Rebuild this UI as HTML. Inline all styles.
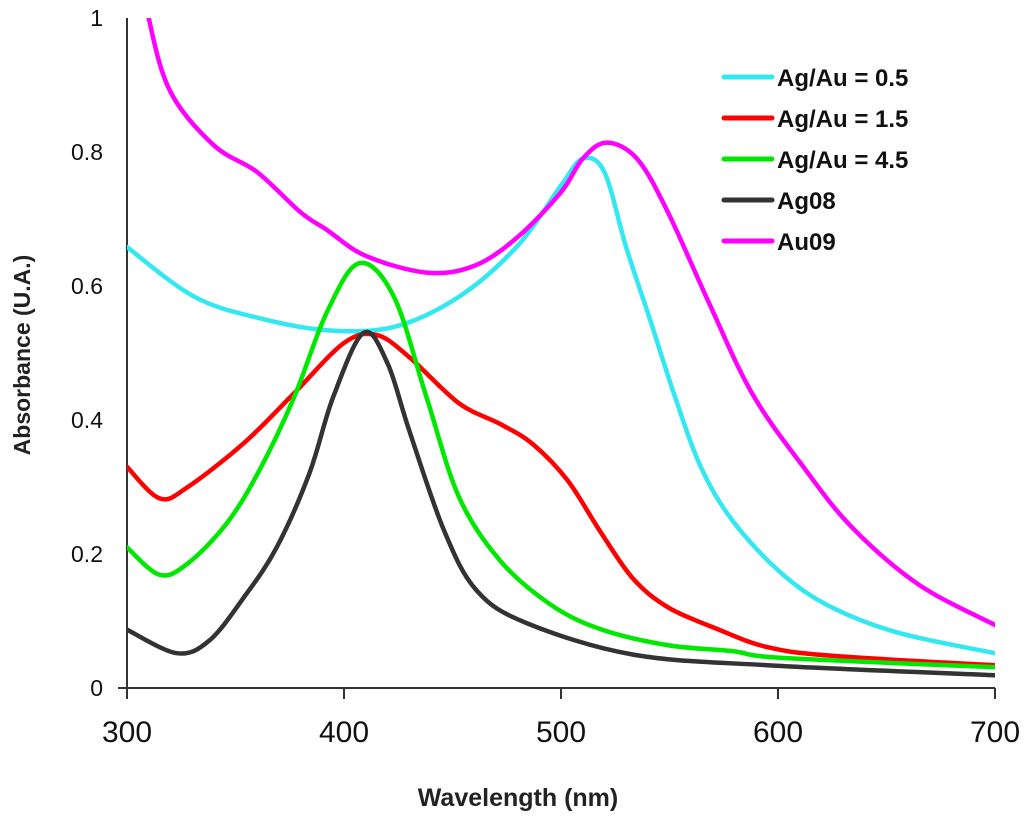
<!DOCTYPE html>
<html><head><meta charset="utf-8"><style>
html,body{margin:0;padding:0;background:#fff;}
svg{display:block;font-family:"Liberation Sans",Arial,sans-serif;}
</style></head><body>
<svg id="chart" width="1024" height="820" viewBox="0 0 1024 820">
<defs><clipPath id="plotclip"><rect x="127" y="18" width="868" height="670"/></clipPath></defs>
<g id="axes"></g>
<g id="series" clip-path="url(#plotclip)"></g>
<g id="legend"></g>
<text x="518" y="806" text-anchor="middle" font-weight="bold" font-size="25" fill="#222">Wavelength (nm)</text>
<text transform="translate(30,355) rotate(-90)" text-anchor="middle" font-weight="bold" font-size="23" fill="#222">Absorbance (U.A.)</text>
</svg>
<script>
const xTicks=[300,400,500,600,700];
const yTicks=[0,0.2,0.4,0.6,0.8,1];
const yTickLabels=["0","0.2","0.4","0.6","0.8","1"];
const names=["Ag/Au = 0.5","Ag/Au = 1.5","Ag/Au = 4.5","Ag08","Au09"];
const colors=["#33e8f0","#ff0000","#00e800","#333333","#ff00ff"];
const wlCyan=[300,331,361,392,423,453,480,500,510,520,530,541,552,564,579,602,625,656,700];
const absCyan=[0.658,0.584,0.552,0.534,0.539,0.584,0.66,0.75,0.79,0.77,0.658,0.55,0.44,0.333,0.25,0.17,0.12,0.082,0.052];
const wlRed=[300,315,328,354,377,400,415,430,453,472,487,503,518,533,549,572,595,625,700];
const absRed=[0.33,0.283,0.3,0.366,0.44,0.515,0.527,0.494,0.425,0.394,0.364,0.31,0.234,0.164,0.121,0.088,0.061,0.048,0.034];
const wlGreen=[300,315,328,346,361,377,392,407,423,438,453,472,495,518,549,579,602,700];
const absGreen=[0.21,0.169,0.186,0.246,0.325,0.434,0.56,0.634,0.584,0.434,0.285,0.19,0.125,0.088,0.064,0.055,0.045,0.031];
const wlBlack=[300,323,338,354,369,384,395,409,420,430,446,461,484,533,595,700];
const absBlack=[0.087,0.052,0.071,0.136,0.21,0.32,0.434,0.53,0.485,0.385,0.236,0.146,0.097,0.05,0.034,0.019];
const wlMag=[304,310,320,340,360,380,392,410,438,460,480,500,510,521,535,549,568,588,611,634,665,700];
const absMag=[1.12,1.0,0.89,0.81,0.77,0.71,0.684,0.645,0.62,0.63,0.673,0.74,0.79,0.814,0.79,0.712,0.576,0.44,0.333,0.24,0.154,0.094];
const seriesX=[wlCyan,wlRed,wlGreen,wlBlack,wlMag];
const seriesY=[absCyan,absRed,absGreen,absBlack,absMag];

const NS="http://www.w3.org/2000/svg";
const X0=127,X1=995,Y0=688,Y1=18;
function xs(v){return X0+(v-300)/400*(X1-X0);}
function ys(v){return Y0-v*(Y0-Y1);}
function mk(t,a,p){const e=document.createElementNS(NS,t);for(const k in a)e.setAttribute(k,a[k]);p.appendChild(e);return e;}
const axes=document.getElementById('axes');
let e=mk('line',{x1:X0,y1:Y1,x2:X0,y2:Y0,stroke:'#333','stroke-width':2},axes);


e=mk('line',{x1:X0-9,y1:Y0,x2:X1,y2:Y0,stroke:'#333','stroke-width':2},axes);


xTicks.forEach(v=>{
 const t=mk('line',{x1:xs(v),y1:Y0,x2:xs(v),y2:Y0+11,stroke:'#333','stroke-width':2},axes);
 
 
 const l=mk('text',{x:xs(v),y:Y0+54,'text-anchor':'middle','font-size':30,fill:'#111'},axes);
 
 
 l.textContent=v;
});
yTicks.forEach((v,i)=>{
 const l=mk('text',{x:103,y:ys(v)+8,'text-anchor':'end','font-size':23,fill:'#111'},axes);
 
 
 l.textContent=yTickLabels[i];
});
function pathFor(xa,ya){
 const p=xa.map((x,i)=>[xs(x),ys(ya[i])]);
 let d='M'+p[0][0].toFixed(1)+','+p[0][1].toFixed(1);
 for(let i=0;i<p.length-1;i++){
  const a=p[Math.max(0,i-1)],b=p[i],c=p[i+1],q=p[Math.min(p.length-1,i+2)];
  const c1=[b[0]+(c[0]-a[0])/6,b[1]+(c[1]-a[1])/6],c2=[c[0]-(q[0]-b[0])/6,c[1]-(q[1]-b[1])/6];
  d+='C'+c1.map(n=>n.toFixed(1))+' '+c2.map(n=>n.toFixed(1))+' '+c[0].toFixed(1)+','+c[1].toFixed(1);
 }
 return d;
}
const sg=document.getElementById('series');
const lg=document.getElementById('legend');
const keys=['cyan','red','green','ag08','au09'];
seriesX.forEach((xa,i)=>{
 const p=mk('path',{d:pathFor(xa,seriesY[i]),fill:'none',stroke:colors[i],'stroke-width':4.5,'stroke-linejoin':'round','stroke-linecap':'round'},sg);
 
 
 const y=77+i*41;
 const ll=mk('line',{x1:724,y1:y,x2:772,y2:y,stroke:colors[i],'stroke-width':5,'stroke-linecap':'round'},lg);
 
 
 const lt=mk('text',{x:777,y:y+9,'font-size':24,'font-weight':'bold',fill:'#111'},lg);
 
 
 lt.textContent=names[i];
});
</script>
</body></html>
